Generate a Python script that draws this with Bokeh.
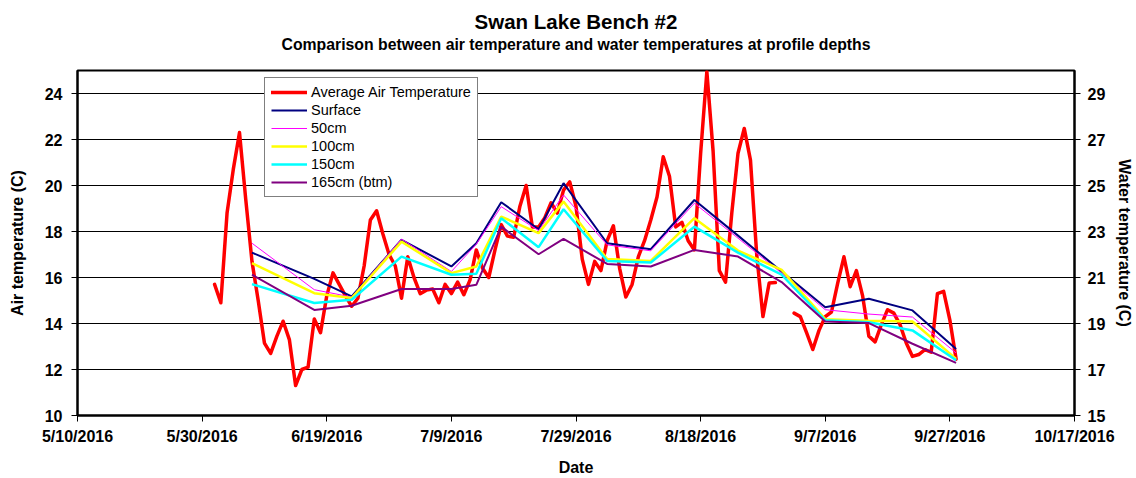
import numpy as np
import pandas as pd
from bokeh.plotting import figure
from bokeh.models import (Range1d, LinearAxis, FixedTicker, Title, Legend,
                          LegendItem)
from bokeh.embed import file_html
from bokeh.resources import INLINE

# ---------------- data ----------------
origin = pd.Timestamp("2016-05-10")
tick_dates = ["5/10/2016", "5/30/2016", "6/19/2016", "7/9/2016", "7/29/2016",
              "8/18/2016", "9/7/2016", "9/27/2016", "10/17/2016"]
air_ticks = [10, 12, 14, 16, 18, 20, 22, 24]
water_ticks = [15, 17, 19, 21, 23, 25, 27, 29]

# daily average air temperature, 6/1/2016 .. 9/28/2016 (nan = missing)
air_first_day = "2016-06-01"
air_temp = [
    15.7, 14.9, 18.8, 20.7, 22.3, 19.4, 16.7, 15.0, 13.15, 12.7,
    13.45, 14.1, 13.3, 11.3, 12.0, 12.1, 14.2, 13.6, 15.2, 16.2,
    15.7, 15.2, 14.75, 15.1, 16.5, 18.5, 18.9, 17.9, 17.0, 16.5,
    15.1, 16.9, 16.0, 15.3, 15.45, 15.5, 14.9, 15.7, 15.3, 15.8,
    15.25, 15.9, 17.2, 16.4, 16.0, 17.2, 18.3, 17.8, 17.75, 19.1,
    20.0, 18.2, 18.2, 18.6, 19.25, 18.8, 19.8, 20.16, 19.1, 16.8,
    15.7, 16.7, 16.3, 17.6, 18.25, 16.4, 15.15, 15.7, 16.9, 17.6,
    18.5, 19.5, 21.25, 20.4, 18.2, 18.4, 17.6, 17.2, 21.4, 24.95,
    21.5, 16.3, 15.8, 18.8, 21.4, 22.48, 21.1, 17.0, 14.3, 15.76,
    15.78, np.nan, np.nan, 14.45, 14.3, 13.6, 12.87, 13.7, 14.3, 14.5,
    15.76, 16.9, 15.6, 16.3, 15.2, 13.45, 13.2, 13.95, 14.6, 14.45,
    13.95, 13.15, 12.57, 12.65, 12.86, 12.75, 15.3, 15.4, 14.15, 12.45,
]

water_dates = ["6/7/2016", "6/17/2016", "6/23/2016", "7/1/2016", "7/9/2016",
               "7/13/2016", "7/17/2016", "7/23/2016", "7/27/2016", "8/3/2016",
               "8/10/2016", "8/17/2016", "8/24/2016", "8/31/2016", "9/7/2016",
               "9/14/2016", "9/21/2016", "9/28/2016"]
surface = [22.08, 20.94, 20.18, 22.64, 21.48, 22.49, 24.27, 23.10, 25.10,
           22.49, 22.23, 24.37, 22.82, 21.26, 19.71, 20.08, 19.57, 17.89]
cm50 = [22.49, 20.47, 20.15, 22.67, 21.26, 22.45, 24.08, 23.04, 24.59,
        22.42, 22.16, 24.23, 22.71, 21.19, 19.60, 19.41, 19.28, 17.72]
cm100 = [21.62, 20.32, 20.11, 22.56, 21.19, 21.48, 23.65, 22.93, 24.30,
         21.80, 21.72, 23.58, 22.17, 21.33, 19.19, 19.12, 19.09, 17.46]
cm150 = [20.71, 19.89, 20.03, 21.91, 21.12, 21.16, 23.58, 22.32, 23.97,
         21.72, 21.65, 23.21, 22.08, 21.12, 19.14, 19.05, 18.70, 17.40]
cm165 = [21.12, 19.59, 19.77, 20.50, 20.50, 20.68, 23.21, 22.01, 22.68,
         21.59, 21.48, 22.20, 21.91, 20.80, 19.09, 19.02, 18.12, 17.29]

# ---------------- helpers ----------------
def day_offset(dates):
    return [(pd.Timestamp(d) - origin).days for d in pd.to_datetime(dates)]

air_days = [(d - origin).days for d in
            pd.date_range(air_first_day, periods=len(air_temp), freq="D")]
water_days = day_offset(water_dates)
tick_pos = day_offset(tick_dates)

FONT = "Liberation Sans"

p = figure(width=1136, height=478, title=None,
           x_range=Range1d(tick_pos[0], tick_pos[-1]), y_range=Range1d(10, 25),
           output_backend="svg", toolbar_location=None,
           min_border_left=77, min_border_right=59,
           min_border_top=70, min_border_bottom=62)
p.extra_y_ranges = {"water": Range1d(15, 30)}

p.background_fill_color = "white"
p.border_fill_color = "white"
p.outline_line_color = "black"
p.outline_line_width = 2
p.outline_line_alpha = 1

# grid
p.xgrid.visible = False
yt = FixedTicker(ticks=air_ticks)
p.yaxis.ticker = yt
p.ygrid.ticker = yt
p.ygrid.grid_line_color = "black"
p.ygrid.grid_line_width = 1

# x axis
p.xaxis.ticker = FixedTicker(ticks=tick_pos)
p.xaxis.major_label_overrides = {int(t): s for t, s in zip(tick_pos, tick_dates)}
p.xaxis.axis_label = "Date"

p.yaxis.axis_label = "Air temperature (C)"

wax = LinearAxis(y_range_name="water", ticker=FixedTicker(ticks=water_ticks),
                 axis_label="Water temperature (C)")
p.add_layout(wax, "right")

for ax in [p.xaxis[0], p.yaxis[0], wax]:
    ax.axis_line_color = "black"
    ax.axis_line_width = 2
    ax.major_tick_line_color = "black"
    ax.major_tick_line_width = 1
    ax.major_tick_out = 6
    ax.major_tick_in = 0
    ax.minor_tick_line_color = None
    ax.major_label_text_font = FONT
    ax.major_label_text_font_style = "bold"
    ax.major_label_text_font_size = "16px"
    ax.major_label_text_color = "black"
    ax.axis_label_text_font = FONT
    ax.axis_label_text_font_style = "bold"
    ax.axis_label_text_font_size = "16px"
    ax.axis_label_text_color = "black"

p.xaxis.major_label_standoff = 6
p.xaxis.axis_label_standoff = 11
p.yaxis.major_label_standoff = 9
p.yaxis.axis_label_standoff = 16
wax.major_label_standoff = 7
wax.axis_label_standoff = 8

# titles (spacer, subtitle, main title; stacked upward from the frame)
spacer = Title(text=" ", text_font=FONT, text_font_size="10px", standoff=5)
sub = Title(text="Comparison between air temperature and water temperatures at profile depths",
            align="center", text_font=FONT, text_font_style="bold",
            text_font_size="15.8px", text_color="black", standoff=0)
main = Title(text="Swan Lake Bench #2", align="center", text_font=FONT,
             text_font_style="bold", text_font_size="20.5px", text_color="black",
             standoff=1)
p.add_layout(spacer, "above")
p.add_layout(sub, "above")
p.add_layout(main, "above")

# lines
r_air = p.line(air_days, air_temp, line_color="#FF0000", line_width=3.5,
               line_join="round", line_cap="round")
series = [
    ("Surface", surface, "#000080", 2),
    ("50cm", cm50, "#FF00FF", 1),
    ("100cm", cm100, "#FFFF00", 2.5),
    ("150cm", cm150, "#00FFFF", 2.5),
    ("165cm (btm)", cm165, "#800080", 2),
]
items = [LegendItem(label="Average Air Temperature", renderers=[r_air])]
for name, vals, col, w in series:
    r = p.line(water_days, vals, line_color=col, line_width=w,
               y_range_name="water")
    items.append(LegendItem(label=name, renderers=[r]))

legend = Legend(items=items, location=(187, 218), orientation="vertical")
legend.border_line_color = "black"
legend.border_line_width = 1
legend.background_fill_color = "white"
legend.background_fill_alpha = 1
legend.label_text_font = FONT
legend.label_text_font_size = "14.5px"
legend.label_text_color = "black"
legend.padding = 6
legend.spacing = 2
legend.margin = 0
legend.glyph_width = 36
legend.glyph_height = 16
legend.label_height = 16
legend.label_standoff = 4
p.add_layout(legend)

open("out.html", "w").write(file_html(p, INLINE))
